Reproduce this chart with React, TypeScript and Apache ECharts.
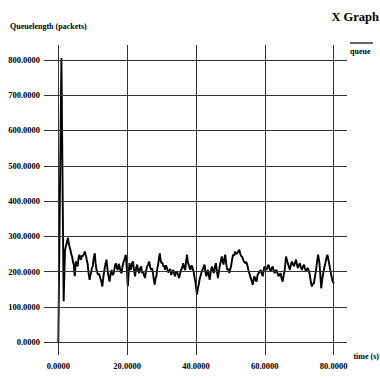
import React, { useEffect, useRef } from "react";
import * as echarts from "echarts";

// Tick values on each axis
const xTicks = [0, 20, 40, 60, 80];
const yTicks = [0, 100, 200, 300, 400, 500, 600, 700, 800];

// Queue length samples: time (s) and packets in the queue
const queueTimes = [
  0, 0.05, 0.9, 1.55, 1.95, 2.8, 3.15, 3.5, 3.75, 4.0, 4.25, 4.5, 4.65, 4.8, 4.95, 5.1, 5.35, 5.6, 5.85, 6.1,
  6.35, 6.6, 6.85, 7.1, 7.4, 7.7, 7.9, 8.1, 8.3, 8.5, 8.8, 9.1, 9.3, 9.5, 9.75, 10.0, 10.3, 10.6, 10.85, 11.1,
  11.3, 11.5, 11.85, 12.2, 12.5, 12.8, 13.1, 13.4, 13.7, 14.0, 14.25, 14.5, 14.7, 14.9, 15.2, 15.5, 15.8, 16.1,
  16.4, 16.7, 17.0, 17.3, 17.55, 17.8, 18.1, 18.4, 18.7, 19.0, 19.3, 19.6, 19.9, 20.2, 20.45, 20.7, 20.9, 21.1,
  21.4, 21.7, 22.0, 22.3, 22.6, 22.9, 23.2, 23.5, 23.8, 24.1, 24.35, 24.6, 24.9, 25.2, 25.5, 25.8, 26.1, 26.4,
  26.7, 27.0, 27.25, 27.5, 27.75, 28.0, 28.25, 28.5, 28.75, 29.0, 29.25, 29.5, 29.75, 30.0, 30.25, 30.5, 30.75,
  31.0, 31.3, 31.6, 31.9, 32.2, 32.5, 32.8, 33.1, 33.4, 33.65, 33.9, 34.2, 34.5, 34.8, 35.1, 35.4, 35.7, 36.0,
  36.3, 36.6, 36.9, 37.15, 37.4, 37.65, 37.9, 38.15, 38.4, 38.65, 38.9, 39.15, 39.4, 39.65, 39.9, 40.1, 40.3,
  40.55, 40.8, 41.05, 41.3, 41.6, 41.9, 42.2, 42.5, 42.75, 43.0, 43.25, 43.5, 43.75, 44.0, 44.3, 44.6, 44.9,
  45.2, 45.5, 45.8, 46.1, 46.4, 46.65, 46.9, 47.2, 47.5, 47.75, 48.0, 48.25, 48.5, 48.8, 49.1, 49.4, 49.7,
  49.95, 50.2, 50.5, 50.8, 51.1, 51.4, 51.7, 52.0, 52.3, 52.6, 52.9, 53.2, 53.45, 53.7, 54.0, 54.3, 54.6, 54.9,
  55.2, 55.5, 55.8, 56.1, 56.3, 56.5, 56.75, 57.0, 57.3, 57.6, 57.9, 58.2, 58.5, 58.8, 59.1, 59.4, 59.65, 59.9,
  60.2, 60.5, 60.8, 61.1, 61.4, 61.7, 62.0, 62.3, 62.6, 62.9, 63.15, 63.4, 63.7, 64.0, 64.3, 64.6, 64.9, 65.2,
  65.5, 65.8, 66.0, 66.2, 66.45, 66.7, 67.0, 67.3, 67.6, 67.9, 68.2, 68.5, 68.8, 69.1, 69.35, 69.6, 69.9, 70.2,
  70.5, 70.8, 71.1, 71.4, 71.7, 72.0, 72.3, 72.6, 72.85, 73.1, 73.4, 73.7, 74.0, 74.3, 74.6, 74.9, 75.2, 75.5,
  75.7, 75.9, 76.15, 76.4, 76.7, 77.0, 77.3, 77.6, 77.9, 78.2, 78.45, 78.7, 79.0, 79.3, 79.6, 79.9, 80.2,
];
const queueLengths = [
  0, 0, 805, 116, 261, 296, 275, 262, 250, 243, 228, 220, 200, 187, 212, 229, 222, 215, 236, 248,
  238, 234, 246, 243, 250, 257, 248, 243, 230, 224, 195, 177, 190, 196, 210, 215, 240, 252, 222, 205,
  200, 191, 194, 182, 172, 158, 185, 205, 222, 234, 210, 191, 182, 172, 195, 205, 190, 196,
  214, 224, 210, 205, 222, 215, 200, 196, 218, 229, 236, 248, 210, 158, 198, 224, 212, 205,
  222, 229, 205, 187, 210, 220, 204, 196, 210, 215, 196, 201, 190, 182, 202, 215, 220, 229,
  212, 205, 210, 196, 178, 163, 180, 187, 208, 220, 238, 252, 232, 224, 226, 215, 218,
  205, 218, 210, 198, 201, 208, 191, 200, 205, 195, 187, 198, 201, 190, 182, 196, 205, 212,
  224, 210, 205, 230, 248, 226, 220, 210, 205, 218, 215, 206, 196, 180, 168, 150, 135,
  152, 163, 178, 187, 198, 205, 212, 220, 200, 187, 200, 205, 188, 177, 200, 215, 204,
  196, 214, 224, 200, 182, 200, 215, 228, 243, 230, 220, 236, 248, 222, 205, 208, 196,
  206, 215, 234, 248, 246, 257, 250, 252, 258, 262, 250, 243, 242, 234, 228, 224, 228, 220,
  206, 196, 186, 177, 170, 163, 178, 187, 176, 172, 190, 196, 200, 205, 196, 187, 202, 215,
  208, 205, 214, 220, 208, 201, 210, 215, 202, 196, 203, 205, 195, 187, 192, 196, 180, 172,
  190, 205, 226, 243, 232, 224, 214, 205, 220, 229, 220, 215, 226, 234, 220, 210, 218, 224,
  212, 205, 214, 220, 208, 201, 208, 210, 200, 191, 170, 158, 165, 168, 186, 205, 228, 248,
  236, 224, 190, 153, 178, 196, 212, 224, 238, 248, 236, 224, 206, 191, 178, 168, 170,
];

const FONT = "'Liberation Serif', 'Times New Roman', serif";

export default function App() {
  const ref = useRef<HTMLDivElement>(null);

  useEffect(() => {
    if (!ref.current) return;
    const chart = echarts.init(ref.current, null, { renderer: "svg" });
    const gridColor = "#333333";

    chart.setOption({
      animation: false,
      backgroundColor: "#ffffff",
      textStyle: { fontFamily: FONT },
      graphic: [
        {
          type: "text",
          x: 379,
          y: 10,
          style: {
            text: "X Graph",
            align: "right",
            verticalAlign: "top",
            fontFamily: FONT,
            fontSize: 12.5,
            fontWeight: "bold",
            fill: "#000",
          },
        },
        {
          type: "line",
          shape: { x1: 350, y1: 43, x2: 373, y2: 43 },
          style: { stroke: "#000", lineWidth: 1.2 },
        },
        {
          type: "text",
          x: 350,
          y: 47,
          style: {
            text: "queue",
            verticalAlign: "top",
            fontFamily: FONT,
            fontSize: 8,
            fontWeight: "bold",
            fill: "#000",
          },
        },
        {
          type: "text",
          x: 10,
          y: 22,
          style: {
            text: "Queuelength (packets)",
            verticalAlign: "top",
            fontFamily: FONT,
            fontSize: 8,
            fontWeight: "bold",
            fill: "#000",
          },
        },
        {
          type: "text",
          x: 379,
          y: 352,
          style: {
            text: "time (s)",
            align: "right",
            verticalAlign: "top",
            fontFamily: FONT,
            fontSize: 8,
            fontWeight: "bold",
            fill: "#000",
          },
        },
      ],
      grid: { left: 44, right: 33, top: 45, bottom: 23 },
      xAxis: {
        type: "value",
        min: -4.16,
        max: 83.9,
        axisLine: { show: false },
        axisTick: { show: false },
        splitLine: { show: false },
        axisLabel: {
          customValues: xTicks,
          formatter: (v: number) => v.toFixed(4),
          margin: 6,
          fontFamily: FONT,
          fontSize: 8.5,
          fontWeight: "bold",
          color: "#000",
        },
      },
      yAxis: {
        type: "value",
        min: -36,
        max: 842,
        axisLine: { show: false },
        axisTick: { show: false },
        splitLine: { show: false },
        axisLabel: {
          customValues: yTicks,
          formatter: (v: number) => v.toFixed(4),
          margin: 4,
          fontFamily: FONT,
          fontSize: 8.5,
          fontWeight: "bold",
          color: "#000",
        },
      },
      series: [
        {
          name: "queue",
          type: "line",
          data: queueTimes.map((t, i) => [t, queueLengths[i]]),
          showSymbol: false,
          lineStyle: { color: "#000", width: 1.9 },
          itemStyle: { color: "#000" },
          z: 3,
          markLine: {
            silent: true,
            symbol: "none",
            label: { show: false },
            lineStyle: { color: gridColor, width: 1, type: "solid" },
            data: [
              ...xTicks.map((v) => ({ xAxis: v })),
              ...yTicks.map((v) => ({ yAxis: v })),
            ],
          },
        },
      ],
    });

    return () => chart.dispose();
  }, []);

  return (
    <div
      ref={ref}
      style={{ position: "fixed", left: 0, top: 0, width: 380, height: 378 }}
    />
  );
}
